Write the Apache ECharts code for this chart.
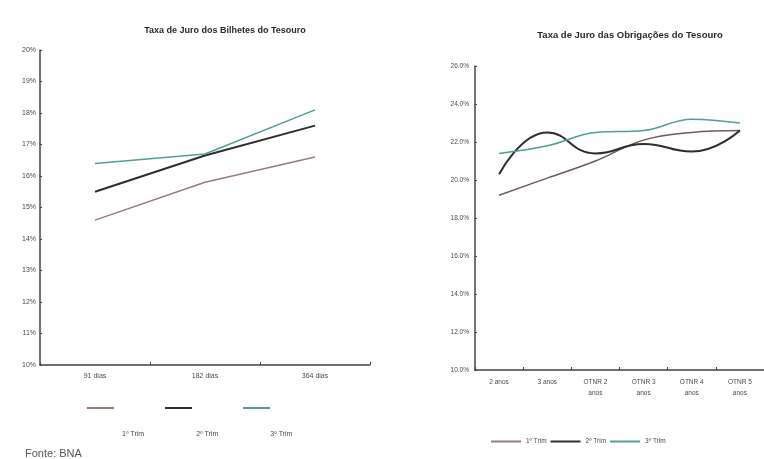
<!DOCTYPE html>
<html>
<head>
<meta charset="utf-8">
<script src="https://cdn.jsdelivr.net/npm/echarts@6/dist/echarts.min.js"></script>
<style>
html,body{margin:0;padding:0;background:#fff;}
#c{width:764px;height:459px;}
</style>
</head>
<body>
<div id="c"></div>
<script>
// Left chart: Bilhetes do Tesouro
const btCategories = ['91 dias', '182 dias', '364 dias'];
const bt1Trim = [14.6, 15.8, 16.6];
const bt2Trim = [15.5, 16.65, 17.6];
const bt3Trim = [16.4, 16.7, 18.1];
// Right chart: Obrigações do Tesouro
const otCategories = ['2 anos', '3 anos', 'OTNR 2\nanos', 'OTNR 3\nanos', 'OTNR 4\nanos', 'OTNR 5\nanos'];
const ot1Trim = [19.2, 20.1, 21.0, 22.1, 22.5, 22.6];
const ot2Trim = [20.3, 22.5, 21.4, 21.9, 21.5, 22.6];
const ot3Trim = [21.4, 21.8, 22.5, 22.6, 23.2, 23.0];
const seriesNames = ['1º Trim', '2º Trim', '3º Trim'];

const colors = ['#9a7b78', '#2e2e2e', '#4f9e97'];
const txt = '#4a4a4a';
const axisLine = {show: true, lineStyle: {color: '#444', width: 1.5}};

const chart = echarts.init(document.getElementById('c'));
chart.setOption({
  backgroundColor: '#fff',
  animation: false,
  title: [
    {text: 'Taxa de Juro dos Bilhetes do Tesouro', left: 220, top: 21, textAlign: 'center',
     textStyle: {fontSize: 9, fontWeight: 'bold', color: '#2a2a2a', fontFamily: 'Liberation Sans'}},
    {text: 'Taxa de Juro das Obrigações do Tesouro', left: 625, top: 25, textAlign: 'center',
     textStyle: {fontSize: 9.5, fontWeight: 'bold', color: '#2a2a2a', fontFamily: 'Liberation Sans'}},
    {text: 'Fonte: BNA', left: 20, top: 443,
     textStyle: {fontSize: 11, fontWeight: 'normal', color: '#555', fontFamily: 'Liberation Sans'}}
  ],
  legend: [
    {data: seriesNames, left: 82, top: 402, icon: 'rect', itemWidth: 27, itemHeight: 2,
     itemGap: 51, formatter: () => '', textStyle: {fontSize: 1}},
    {data: seriesNames, left: 112, top: 426, itemWidth: 0, itemHeight: 0, icon: 'rect',
     itemGap: 47, textStyle: {fontSize: 7, color: txt, fontFamily: 'Liberation Sans'}},
    {data: seriesNames, left: 486, top: 433, icon: 'rect', itemWidth: 30, itemHeight: 2,
     itemGap: 4, textStyle: {fontSize: 6.5, color: txt, fontFamily: 'Liberation Sans'}}
  ],
  grid: [
    {left: 40, top: 50, width: 330, bottom: 94},
    {left: 475, top: 66, width: 300, bottom: 89}
  ],
  xAxis: [
    {type: 'category', gridIndex: 0, data: btCategories, boundaryGap: true,
     axisLine: axisLine, axisTick: {show: true, inside: true, length: 3, lineStyle: {color: '#444'}},
     axisLabel: {fontSize: 7, color: txt, margin: 8, fontFamily: 'Liberation Sans'}},
    {type: 'category', gridIndex: 1, data: otCategories, boundaryGap: true,
     axisLine: axisLine, axisTick: {show: true, inside: true, length: 3, lineStyle: {color: '#444'}},
     axisLabel: {fontSize: 6.5, color: txt, margin: 7, lineHeight: 11, fontFamily: 'Liberation Sans'}}
  ],
  yAxis: [
    {type: 'value', gridIndex: 0, min: 10, max: 20, interval: 1,
     axisLine: axisLine, splitLine: {show: false},
     axisTick: {show: true, inside: true, length: 2, lineStyle: {color: '#444'}},
     axisLabel: {formatter: '{value}%', fontSize: 7, color: txt, margin: 4, fontFamily: 'Liberation Sans'}},
    {type: 'value', gridIndex: 1, min: 10, max: 26, interval: 2,
     axisLine: axisLine, splitLine: {show: false},
     axisTick: {show: true, inside: true, length: 2, lineStyle: {color: '#444'}},
     axisLabel: {formatter: v => v.toFixed(1) + '%', fontSize: 6.5, color: txt, margin: 6, fontFamily: 'Liberation Sans'}}
  ],
  series: [
    {name: seriesNames[0], type: 'line', xAxisIndex: 0, yAxisIndex: 0, data: bt1Trim, symbol: 'none',
     lineStyle: {color: colors[0], width: 1.5}, itemStyle: {color: colors[0]}},
    {name: seriesNames[1], type: 'line', xAxisIndex: 0, yAxisIndex: 0, data: bt2Trim, symbol: 'none',
     lineStyle: {color: colors[1], width: 2}, itemStyle: {color: colors[1]}},
    {name: seriesNames[2], type: 'line', xAxisIndex: 0, yAxisIndex: 0, data: bt3Trim, symbol: 'none',
     lineStyle: {color: colors[2], width: 1.5}, itemStyle: {color: colors[2]}},
    {name: seriesNames[0], type: 'line', xAxisIndex: 1, yAxisIndex: 1, data: ot1Trim, symbol: 'none', smooth: 0.4,
     lineStyle: {color: '#6e5a58', width: 1.5}, itemStyle: {color: colors[0]}},
    {name: seriesNames[1], type: 'line', xAxisIndex: 1, yAxisIndex: 1, data: ot2Trim, symbol: 'none', smooth: 0.5,
     lineStyle: {color: colors[1], width: 2}, itemStyle: {color: colors[1]}},
    {name: seriesNames[2], type: 'line', xAxisIndex: 1, yAxisIndex: 1, data: ot3Trim, symbol: 'none', smooth: 0.4,
     lineStyle: {color: colors[2], width: 1.5}, itemStyle: {color: colors[2]}}
  ]
});
</script>
</body>
</html>
